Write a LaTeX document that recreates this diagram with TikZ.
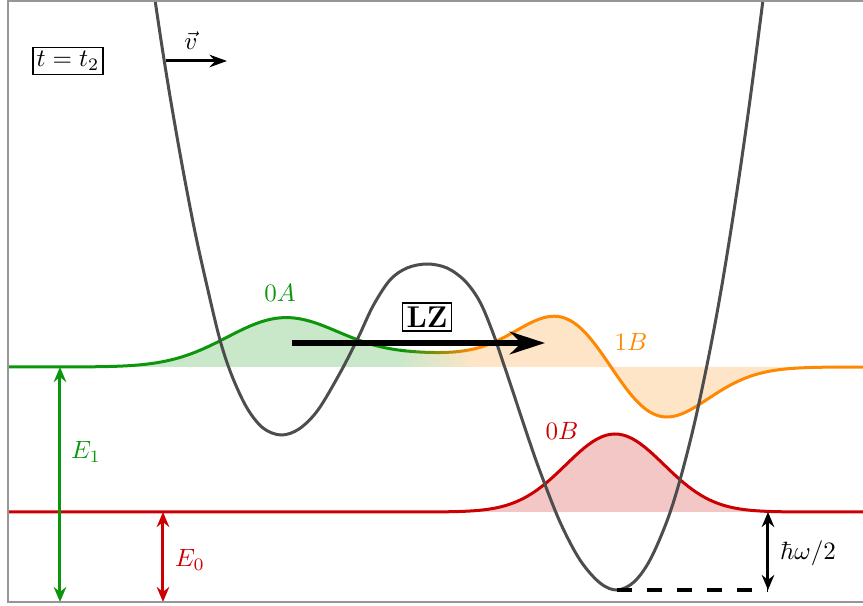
\documentclass[tikz,border=0pt]{standalone}
\usetikzlibrary{arrows.meta}
\definecolor{cgreen}{RGB}{12,150,12}
\definecolor{corange}{RGB}{255,136,0}
\definecolor{cred}{RGB}{204,0,0}
\definecolor{cpot}{RGB}{77,77,77}
\definecolor{cframe}{RGB}{150,150,150}
\begin{document}
\begin{tikzpicture}[x=0.4pt,y=-0.4pt,
  declare function={
    gA(\x)=49*exp(-0.5*((\x-285)/58)^2);
    gB(\x)=82.4*(-(\x-611)/56)*exp(-0.5*((\x-611)/56)^2);
    gM(\x)=11*exp(-0.5*((\x-428)/55)^2);
    wAB(\x)=gA(\x)+gB(\x)+gM(\x);
    wR(\x)=78*exp(-0.5*((\x-615)/49)^2);
  },
  pot/.style={draw=cpot,line width=1.2pt},
  wline/.style={line width=1.2pt},
  dimarrow/.style={line width=1.2pt,{Stealth[length=6pt,width=5pt]}-{Stealth[length=6pt,width=5pt]}},
  boxed/.style={draw,line width=0.5pt,inner sep=1.5pt},
  lbl/.style={inner sep=1pt}]
\useasboundingbox (0,0) rectangle (863,606);
\begin{scope}
\clip (8,1) rectangle (870,602);
% fills
\begin{scope}
\clip (8,367) -- plot[domain=8:870,samples=240] (\x,{367-wAB(\x)}) -- (870,367) -- cycle;
\fill[cgreen!22] (8,200) rectangle (400,460);
\shade[left color=cgreen!22,right color=corange!22] (399,200) rectangle (476,460);
\fill[corange!22] (475,200) rectangle (870,460);
\end{scope}
\begin{scope}
\clip (8,512) -- plot[domain=8:870,samples=200] (\x,{512-wR(\x)}) -- (870,512) -- cycle;
\fill[cred!22] (8,400) rectangle (870,520);
\end{scope}
% wave lines
\draw[wline,cgreen] plot[domain=8:400.5,samples=160] (\x,{367-wAB(\x)});
\foreach \i in {0,...,14}{
  \pgfmathsetmacro{\a}{400+5*\i}
  \pgfmathsetmacro{\b}{\a+5.4}
  \pgfmathtruncatemacro{\p}{100-100*\i/14}
  \draw[wline,color=cgreen!\p!corange] plot[domain=\a:\b,samples=4] (\x,{367-wAB(\x)});
}
\draw[wline,corange] plot[domain=474.5:870,samples=180] (\x,{367-wAB(\x)});
\draw[wline,cred] plot[domain=8:870,samples=200] (\x,{512-wR(\x)});
% potential
\draw[pot] plot[smooth,tension=0.55] coordinates {(152,-20) (155,0) (163,53) (172,108) (183,170) (195,232) (207,286) (220,340) (232,376) (247,408) (263,428) (281,435) (299,429) (318,410) (340,373) (358,338) (373,306) (390,280) (407,268) (427,264) (447,268) (465,281) (480,302) (493,333) (505,368) (517,404) (530,443) (541,474) (560,522) (580,560) (600,583) (617,590) (634,582) (650,560) (667,521) (680,480) (695,421) (710,350) (723,279) (737,191) (750,100) (763,0) (766,-25)};
\end{scope}
% coordinates
\coordinate (vmin) at (617,590);
\coordinate (hwtop) at (768,512);
\coordinate (hwbot) at (768,590);
\coordinate (e1top) at (60,367);
\coordinate (e1bot) at (60,602);
\coordinate (e0top) at (163,512);
\coordinate (e0bot) at (163,602);
\coordinate (lzs) at (292,343);
\coordinate (lze) at (545,343);
\coordinate (vs) at (166,61);
\coordinate (ve) at (227,61);
% dashed reference
\draw[line width=1.6pt,dash pattern=on 6pt off 6pt] (vmin) -- (hwbot);
% dimension arrows
\draw[dimarrow,black] (hwtop) -- (hwbot);
\draw[dimarrow,cgreen] (e1top) -- (e1bot);
\draw[dimarrow,cred] (e0top) -- (e0bot);
% LZ arrow
\draw[line width=2.4pt,-{Stealth[length=14pt,width=9pt]}] (lzs) -- (lze);
% velocity arrow
\draw[line width=1.2pt,-{Stealth[length=7pt,width=5pt]}] (vs) -- (ve);
% labels
\node[boxed] (tlab) at (68,61) {$t=t_2$};
\node[lbl] (vlab) at (191,41) {$\vec{v}$};
\node[boxed,font=\large\bfseries] (lzlab) at (427,317) {LZ};
\node[lbl,text=cgreen] (l0a) at (280,293) {$0A$};
\node[lbl,text=corange] (l1b) at (631,342) {$1B$};
\node[lbl,text=cred] (l0b) at (562,431) {$0B$};
\node[lbl,text=cgreen] (le1) at (86,452) {$E_1$};
\node[lbl,text=cred] (le0) at (190,560) {$E_0$};
\node[lbl] (lhw) at (808,553) {$\hbar\omega/2$};
% frame
\draw[cframe,line width=0.5pt] (8,1) rectangle (870,602);
\end{tikzpicture}
\end{document}
